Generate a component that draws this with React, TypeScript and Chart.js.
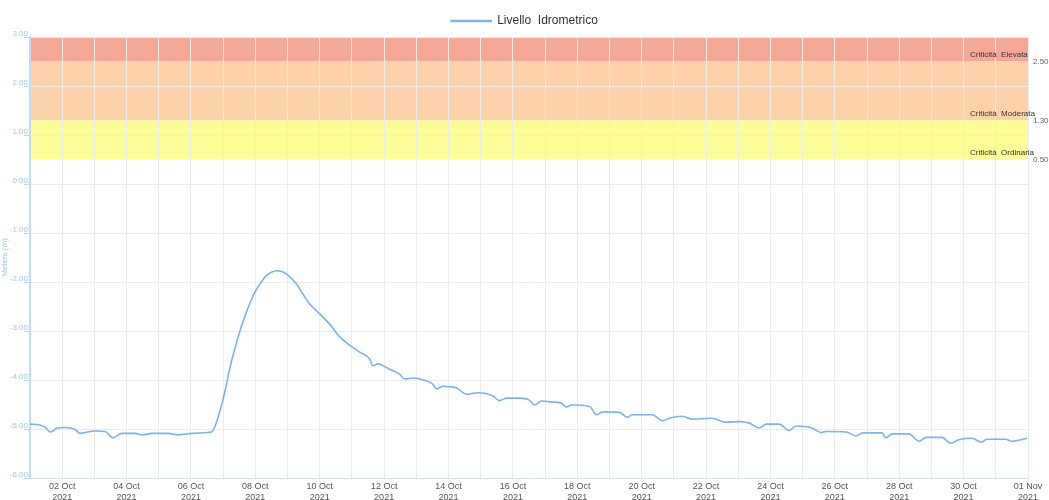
import React, { useEffect, useRef } from "react";
import { Chart, registerables } from "chart.js";

Chart.register(...registerables);

// Time in days since 01 Oct 2021 00:00
const dayOffsets = [
  0, 0.31, 0.47, 0.62, 0.71, 0.84, 1.09, 1.4, 1.55, 1.71, 2.02, 2.33, 2.58, 2.85, 3.26, 3.5, 3.79, 4.28, 4.6,
  5.03, 5.52, 5.64, 5.74, 5.9, 6.05, 6.2, 6.36, 6.52, 6.72, 6.93, 7.14, 7.34, 7.5, 7.66, 7.8, 7.97, 8.28, 8.48,
  8.69, 9.0, 9.31, 9.62, 9.93, 10.24, 10.55, 10.65, 10.8, 11.17, 11.48, 11.64, 11.88, 12.32, 12.5, 12.63, 12.82,
  13.24, 13.56, 13.76, 13.96, 14.37, 14.58, 14.8, 15.2, 15.51, 15.67, 15.89, 16.23, 16.5, 16.66, 16.82, 17.38,
  17.6, 17.78, 18.31, 18.56, 18.71, 19.33, 19.64, 19.86, 20.26, 20.57, 21.19, 21.6, 22.03, 22.34, 22.65, 22.87,
  23.27, 23.58, 23.8, 24.29, 24.57, 24.73, 25.35, 25.66, 25.86, 26.47, 26.58, 26.78, 27.3, 27.62, 27.83, 28.33,
  28.6, 28.85, 29.27, 29.54, 29.73, 30.3, 30.5, 30.97,
];

const levels = [
  -4.9, -4.92, -4.96, -5.06, -5.04, -4.98, -4.97, -5.01, -5.09, -5.07, -5.04, -5.05, -5.18, -5.09, -5.09, -5.12,
  -5.09, -5.09, -5.12, -5.09, -5.07, -5.06, -4.96, -4.63, -4.25, -3.78, -3.37, -3.0, -2.62, -2.28, -2.04, -1.87,
  -1.8, -1.77, -1.78, -1.84, -2.04, -2.25, -2.45, -2.65, -2.86, -3.12, -3.29, -3.43, -3.57, -3.71, -3.67, -3.78,
  -3.88, -3.98, -3.96, -4.02, -4.08, -4.18, -4.13, -4.16, -4.29, -4.27, -4.26, -4.32, -4.42, -4.37, -4.37, -4.41,
  -4.51, -4.43, -4.45, -4.47, -4.55, -4.51, -4.54, -4.71, -4.65, -4.66, -4.76, -4.71, -4.71, -4.83, -4.78, -4.74,
  -4.8, -4.78, -4.86, -4.85, -4.88, -4.98, -4.9, -4.9, -5.03, -4.94, -4.98, -5.07, -5.05, -5.06, -5.14, -5.08,
  -5.08, -5.18, -5.1, -5.1, -5.25, -5.17, -5.17, -5.29, -5.22, -5.19, -5.27, -5.21, -5.21, -5.25, -5.19,
];

// Labels for the odd day ticks (02 Oct, 04 Oct, ... 01 Nov)
const xTickLabels = [
  "02 Oct", "04 Oct", "06 Oct", "08 Oct", "10 Oct", "12 Oct", "14 Oct", "16 Oct",
  "18 Oct", "20 Oct", "22 Oct", "24 Oct", "26 Oct", "28 Oct", "30 Oct", "01 Nov",
];
const xTickYear = "2021";

const bandNames = ["Criticità  Elevata", "Criticità  Moderata", "Criticità  Ordinaria"];
const bandLows = [2.5, 1.3, 0.5];
const bandHighs = [3.0, 2.5, 1.3];
const bandColors = ["#F6A897", "#FDD2AA", "#FDFD97"];
const thresholdTicks = [0.5, 1.3, 2.5];

const seriesLabel = "Livello  Idrometrico";
const lineColor = "#7BB3EA";
const blueText = "#9DC8F2";

const bandsPlugin = {
  id: "bands",
  beforeDraw(chart: any) {
    const { ctx, chartArea, scales } = chart;
    const y = scales.y;
    ctx.save();
    for (let i = 0; i < bandLows.length; i++) {
      const top = y.getPixelForValue(bandHighs[i]);
      const bot = y.getPixelForValue(bandLows[i]);
      ctx.fillStyle = bandColors[i];
      ctx.fillRect(chartArea.left, top, chartArea.right - chartArea.left, bot - top);
    }
    ctx.restore();
  },
  beforeDatasetsDraw(chart: any) {
    const { ctx, chartArea, scales } = chart;
    const y = scales.y;
    ctx.save();
    ctx.font = '8px Arial, "Liberation Sans", sans-serif';
    ctx.fillStyle = "#333";
    ctx.textAlign = "left";
    ctx.textBaseline = "middle";
    for (let i = 0; i < bandLows.length; i++) {
      const bot = y.getPixelForValue(bandLows[i]);
      ctx.fillText(bandNames[i], chartArea.right - 58, bot - 7);
    }
    ctx.restore();
  },
};

export default function App() {
  const ref = useRef<HTMLCanvasElement | null>(null);

  useEffect(() => {
    if (!ref.current) return;
    Chart.defaults.font.family = 'Arial, "Liberation Sans", sans-serif';
    const data = dayOffsets.map((d, i) => ({ x: d, y: levels[i] }));
    const chart = new Chart(ref.current, {
      type: "line",
      data: {
        datasets: [
          {
            label: seriesLabel,
            data,
            borderColor: lineColor,
            backgroundColor: lineColor,
            borderWidth: 1.6,
            pointRadius: 0,
            cubicInterpolationMode: "monotone",
            fill: false,
            yAxisID: "y",
          },
        ],
      },
      options: {
        animation: false,
        responsive: true,
        maintainAspectRatio: false,
        layout: { padding: { top: 5, left: 0, right: 0, bottom: 0 } },
        plugins: {
          legend: {
            position: "top",
            labels: {
              boxWidth: 40,
              boxHeight: 1,
              color: "#333",
              font: { size: 12 },
              padding: 10,
            },
          },
          tooltip: { enabled: false },
        },
        scales: {
          x: {
            type: "linear",
            min: 0,
            max: 31,
            afterBuildTicks(scale: any) {
              const t = [];
              for (let i = 0; i <= 31; i++) t.push({ value: i });
              scale.ticks = t;
            },
            ticks: {
              autoSkip: false,
              maxRotation: 0,
              color: "#555",
              font: { size: 9 },
              padding: 3,
              callback: (v: any) => {
                const n = Math.round(Number(v));
                if (n % 2 === 1) return [xTickLabels[(n - 1) / 2], xTickYear];
                return "";
              },
            },
            grid: { color: "#ececec", drawTicks: false },
            border: { color: "#d6e4f3" },
            afterFit(scale: any) {
              scale.height = 22;
            },
          },
          y: {
            type: "linear",
            position: "left",
            min: -6,
            max: 3,
            ticks: {
              stepSize: 1,
              color: blueText,
              font: { size: 8 },
              padding: -4,
              labelOffset: -3,
              callback: (v: any) => Number(v).toFixed(2),
            },
            grid: { color: "#ececec", tickLength: 6, tickColor: "#b9d6f4" },
            border: { color: "#c3dcf6", width: 2 },
            title: {
              display: true,
              text: "Meters (m)",
              color: blueText,
              font: { size: 8 },
              padding: 0,
            },
            afterFit(scale: any) {
              scale.width = 30;
            },
          },
          y2: {
            type: "linear",
            position: "right",
            min: -6,
            max: 3,
            afterBuildTicks(scale: any) {
              scale.ticks = thresholdTicks.map((v) => ({ value: v }));
            },
            ticks: {
              color: "#666",
              font: { size: 8 },
              padding: 5,
              callback: (v: any) => Number(v).toFixed(2),
            },
            grid: { display: false, drawTicks: false },
            border: { display: false },
            afterFit(scale: any) {
              scale.width = 21;
            },
          },
        },
      },
      plugins: [bandsPlugin],
    } as any);
    return () => chart.destroy();
  }, []);

  return (
    <div style={{ position: "fixed", left: 0, top: 0, width: 1049, height: 500, background: "#fff" }}>
      <canvas ref={ref} />
    </div>
  );
}
